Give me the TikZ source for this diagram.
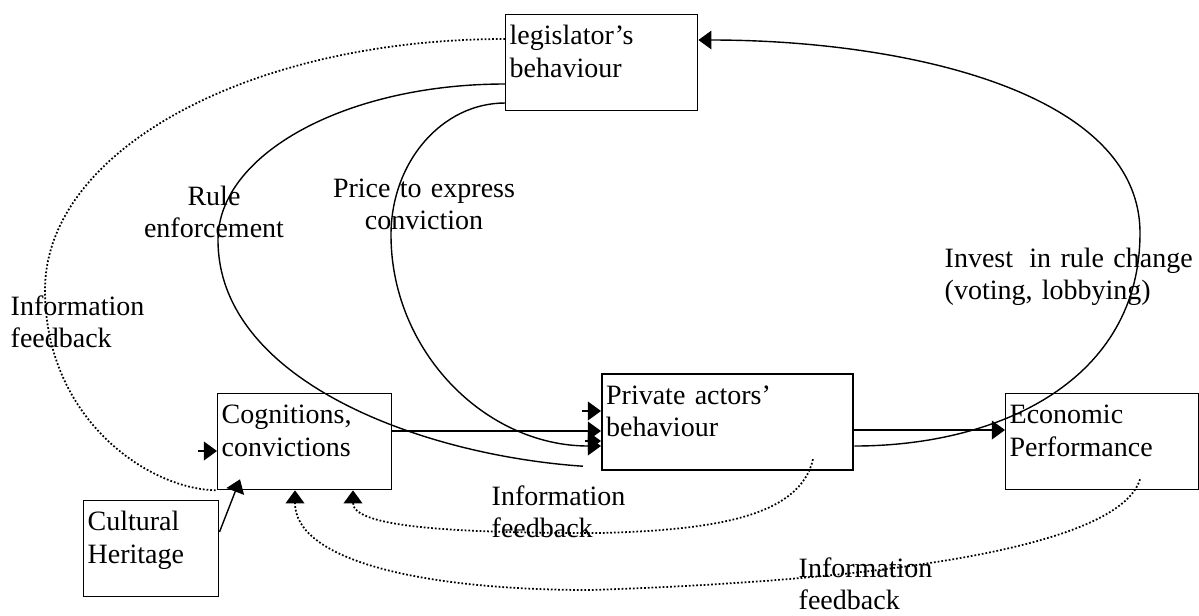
\documentclass[tikz,border=0pt]{standalone}
\usepackage{fontspec}
\setmainfont{Liberation Serif}
\usetikzlibrary{arrows.meta,calc}
\tikzstyle{block} = [rectangle, draw, line width=0.6pt, anchor=north west, align=left, inner xsep=1.7pt, inner ysep=0pt, text height=12.8pt, text depth=28.3pt]
\tikzstyle{note} = [inner sep=0pt, align=left, anchor=base west]
\tikzstyle{feedback} = [line width=0.75pt, dash pattern=on 0.75pt off 0.85pt]

\begin{document}
\begin{tikzpicture}[x=0.4286pt, y=-0.4286pt, font=\fontsize{12}{14.1}\selectfont, line width=0.6pt, >={Triangle[length=5.6pt,width=8pt]}]
            \useasboundingbox (0,0) rectangle (1199,615);

            \node [block, text width=78.9pt] (legis) at (505,14) {legislator’s\\behaviour};
            \node [block, text width=71.2pt] (cogn) at (217,393) {Cognitions,\\convictions};
            \node [block, text width=104.2pt, line width=1pt] (priv) at (601,373) {Private actors’\\behaviour};
            \node [block, text width=79.3pt] (econ) at (1005,393) {Economic\\Performance};
            \node [block, text width=54.5pt] (cult) at (83,500) {Cultural\\Heritage};

            \node [note, text width=62pt, align=center, anchor=base] (rule) at (214,205) {Rule\\enforcement};
            \node [note, text width=82pt, align=center, anchor=base] (price) at (424,197) {Price to express\\conviction};
            \node [note, text width=60pt] (infoL) at (10,315) {Information\\feedback};
            \node [note, text width=112pt] (invest) at (944,267) {Invest\hspace{3pt} in rule change\\(voting, lobbying)};
            \node [note, text width=60pt] (infoM) at (491,505) {Information\\feedback};
            \node [note, text width=60pt] (infoR) at (798,577) {Information\\feedback};

            \coordinate (cognOut) at ($(cogn.north east)+(0,38)$);
            \coordinate (privOut) at ($(priv.north east)+(0,57)$);
            \coordinate (stubC) at ($(cogn.north west)+(-19,58)$);
            \coordinate (stubP1) at ($(priv.north west)+(-19,38)$);
            \coordinate (stubP2) at ($(priv.north west)+(-16,68)$);
            \coordinate (cultOut) at ($(cult.north east)+(0,32)$);
            \coordinate (cultIn) at ($(cogn.south west)+(23,-11)$);
            \coordinate (ruleEnd) at ($(priv.south west)+(-18,-5)$);
            \coordinate (privFb) at ($(priv.south west)+(212,-12)$);
            \coordinate (econFb) at ($(econ.south west)+(135,-11)$);

            \draw[->](cognOut) -- (cognOut -| priv.west);
            \draw[->](privOut) -- (privOut -| econ.west);
            \draw[->](stubC) -- (stubC -| cogn.west);
            \draw[->](stubP1) -- (stubP1 -| priv.west);
            \draw[->](stubP2) -- (stubP2 -| priv.west);
            \draw[->](cultOut) -- (cultIn);

            \draw ($(legis.north west)+(0,70)$) .. controls (346,84) and (218,154) .. (218,240) .. controls (218,380) and (420,455) .. (ruleEnd);
            \draw[->] ($(legis.north west)+(0,89)$) .. controls (442,103) and (391,162) .. (391,235) .. controls (391,351) and (485,446) .. ($(priv.north west)+(0,73)$);
            \draw[->] ($(priv.north east)+(0,73)$) .. controls (1000,446) and (1140,380) .. (1140,233) .. controls (1140,90) and (900,40) .. ($(legis.north east)+(0,26)$);

            \draw[feedback] ($(legis.north west)+(0,25)$) .. controls (250,39) and (45,150) .. (45,290) .. controls (45,420) and (150,490) .. (cogn.south west);
            \draw[feedback, ->] (privFb) .. controls (800,515) and (720,530) .. (600,533) .. controls (460,533) and (353,528) .. ($(cogn.south west)+(136,0)$);
            \draw[feedback, ->] (econFb) .. controls (1120,545) and (900,580) .. (590,590) .. controls (420,590) and (295,560) .. ($(cogn.south west)+(78,0)$);
        \end{tikzpicture}
\end{document}
